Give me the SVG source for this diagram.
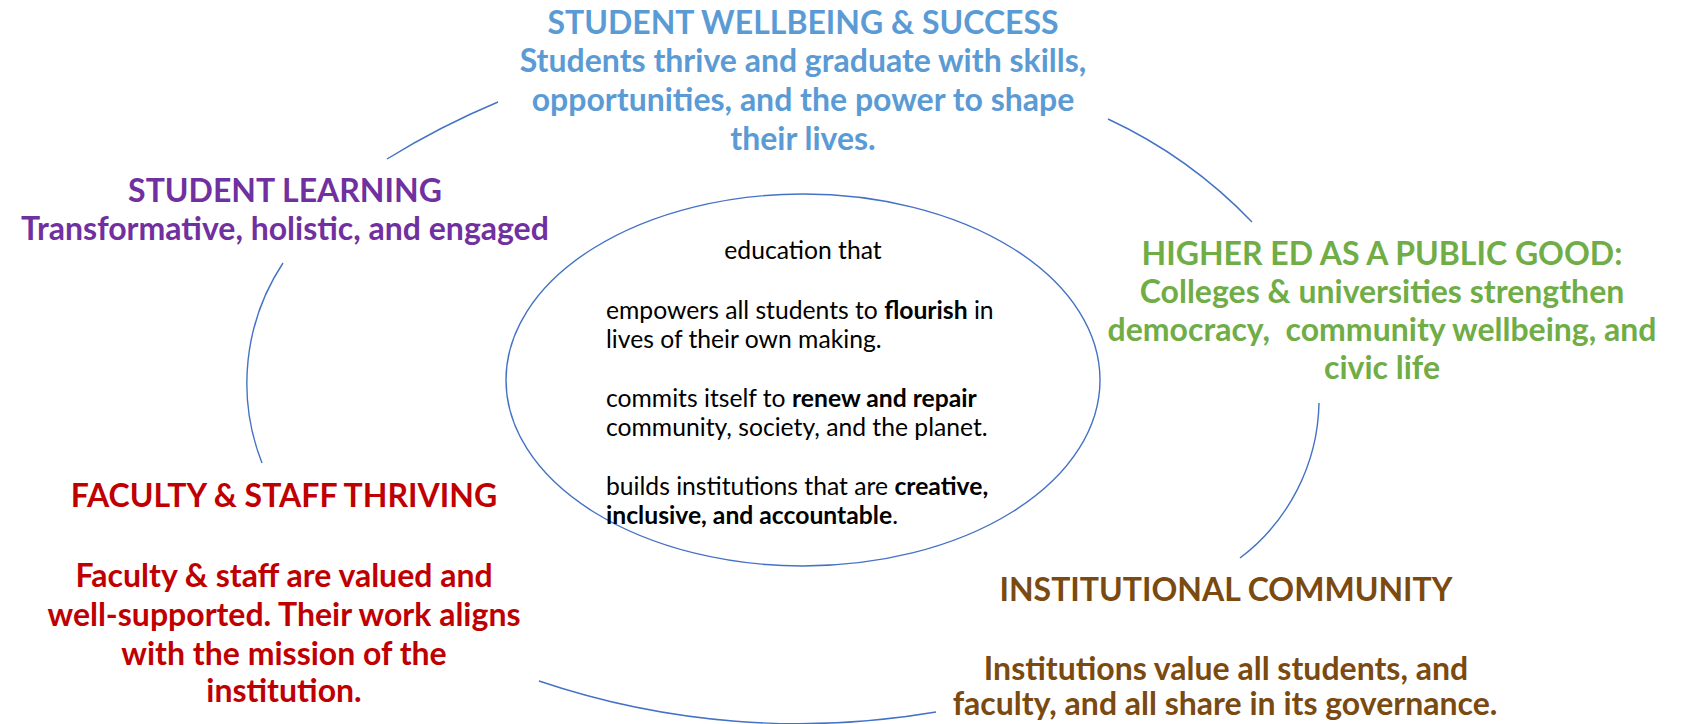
<svg xmlns="http://www.w3.org/2000/svg" width="1686" height="724" viewBox="0 0 1686 724">
<style>
.h{font-family:Lato,"Liberation Sans",sans-serif;font-weight:700;font-size:32px;text-anchor:middle}
.c{font-family:Lato,"Liberation Sans",sans-serif;font-weight:400;font-size:24.7px;fill:#000}
.b{font-weight:700}
.arc{fill:none;stroke:#4472C4;stroke-width:1.4}
.blue{fill:#5B9BD5}.purple{fill:#7030A0}.green{fill:#70AD47}.red{fill:#C00000}.brown{fill:#7A4A10}
</style>
<rect width="1686" height="724" fill="#fff"/>
<g id="connectors">
<path class="arc" d="M387,159 A800,800 0 0 1 498,102"/>
<path class="arc" d="M1108,119 A479,479 0 0 1 1252,222"/>
<path class="arc" d="M1319,403 A199,199 0 0 1 1240,558"/>
<path class="arc" d="M539,681 A812,812 0 0 0 936,712"/>
<path class="arc" d="M283,263 A218,218 0 0 0 262,463"/>
</g>
<g id="center">
<ellipse class="arc" cx="803" cy="380" rx="297" ry="186"/>
<text class="c" x="803" y="259" text-anchor="middle">education that</text>
<text class="c" x="606" y="319">empowers all students to <tspan class="b">flourish</tspan> in</text>
<text class="c" x="606" y="348">lives of their own making.</text>
<text class="c" x="606" y="407">commits itself to <tspan class="b">renew and repair</tspan></text>
<text class="c" x="606" y="436">community, society, and the planet.</text>
<text class="c" x="606" y="495">builds institutions that are <tspan class="b">creative,</tspan></text>
<text class="c" x="606" y="524"><tspan class="b">inclusive, and accountable</tspan>.</text>
</g>
<g id="student-wellbeing" class="h blue">
<text x="803" y="34">STUDENT WELLBEING &amp; SUCCESS</text>
<text x="803" y="72">Students thrive and graduate with skills,</text>
<text x="803" y="111">opportunities, and the power to shape</text>
<text x="803" y="150">their lives.</text>
</g>
<g id="student-learning" class="h purple">
<text x="285" y="202">STUDENT LEARNING</text>
<text x="285" y="240">Transformative, holistic, and engaged</text>
</g>
<g id="public-good" class="h green">
<text x="1382" y="265">HIGHER ED AS A PUBLIC GOOD:</text>
<text x="1382" y="303">Colleges &amp; universities strengthen</text>
<text x="1382" y="341" style="white-space:pre">democracy,  community wellbeing, and</text>
<text x="1382" y="379">civic life</text>
</g>
<g id="faculty-staff" class="h red">
<text x="284" y="507">FACULTY &amp; STAFF THRIVING</text>
<text x="284" y="587">Faculty &amp; staff are valued and</text>
<text x="284" y="626">well-supported. Their work aligns</text>
<text x="284" y="665">with the mission of the</text>
<text x="284" y="702">institution.</text>
</g>
<g id="institutional-community" class="h brown">
<text x="1226" y="601">INSTITUTIONAL COMMUNITY</text>
<text x="1226" y="680">Institutions value all students, and</text>
<text x="1225" y="715">faculty, and all share in its governance.</text>
</g>
</svg>
